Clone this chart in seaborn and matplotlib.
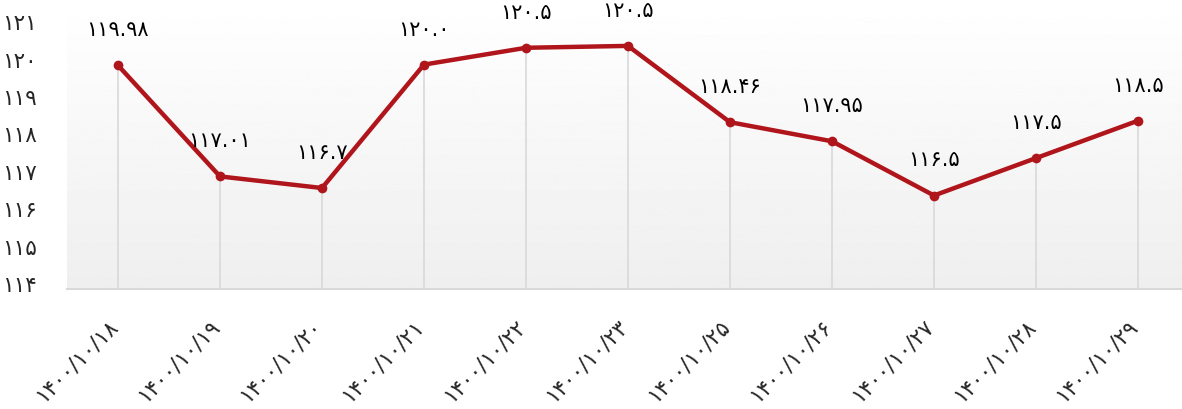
import numpy as np
import pandas as pd
import matplotlib
matplotlib.use("Agg")
import matplotlib.pyplot as plt
import matplotlib.transforms as mtransforms
import seaborn as sns

dates = ["۱۴۰۰/۱۰/۱۸", "۱۴۰۰/۱۰/۱۹", "۱۴۰۰/۱۰/۲۰", "۱۴۰۰/۱۰/۲۱", "۱۴۰۰/۱۰/۲۲",
         "۱۴۰۰/۱۰/۲۳", "۱۴۰۰/۱۰/۲۵", "۱۴۰۰/۱۰/۲۶", "۱۴۰۰/۱۰/۲۷", "۱۴۰۰/۱۰/۲۸",
         "۱۴۰۰/۱۰/۲۹"]
values = [119.98, 117.01, 116.7, 120.0, 120.45, 120.5, 118.46, 117.95, 116.5, 117.5, 118.5]
value_labels = ["۱۱۹.۹۸", "۱۱۷.۰۱", "۱۱۶.۷", "۱۲۰.۰", "۱۲۰.۵", "۱۲۰.۵",
                "۱۱۸.۴۶", "۱۱۷.۹۵", "۱۱۶.۵", "۱۱۷.۵", "۱۱۸.۵"]
y_ticks = [114, 115, 116, 117, 118, 119, 120, 121]
y_tick_labels = ["۱۱۴", "۱۱۵", "۱۱۶", "۱۱۷", "۱۱۸", "۱۱۹", "۱۲۰", "۱۲۱"]

sns.set_theme(style="white")
plt.rcParams['font.family'] = ['DejaVu Sans']

df = pd.DataFrame({"date": dates, "value": values})
x = np.arange(len(dates))

W, H = 1182, 410
fig = plt.figure(figsize=(W / 100, H / 100), dpi=100)
left_px, right_px, bottom_px, top_px = 67, 1182, 290, 0
ax = fig.add_axes([left_px / W, (H - bottom_px) / H, (right_px - left_px) / W, (bottom_px - top_px) / H])

# gradient background
grad = np.linspace(1.0, 0.935, 256).reshape(-1, 1)
ax.imshow(grad, cmap="gray", vmin=0, vmax=1, aspect="auto",
          extent=[0, 1, 0, 1], transform=ax.transAxes, zorder=0)

ax.vlines(x, 114, values, color="#d9d9d9", linewidth=1.2, zorder=1)

sns.lineplot(data=df, x="date", y="value", ax=ax, color="#b0151c", linewidth=3.2,
             marker="o", markersize=7, markeredgewidth=0, sort=False, zorder=3)

for xi, v, lab in zip(x, values, value_labels):
    ax.annotate(lab, (xi, v), xytext=(0, 36), textcoords="offset pixels",
                ha="center", va="center", fontsize=15, color="black", zorder=4)

ax.set_xlim(-0.5, -0.5 + (right_px - left_px) / 102.0)
ax.set_ylim(114, 114 + (bottom_px - top_px) / 37.4)
ax.set_yticks(y_ticks)
ax.set_yticklabels(y_tick_labels, fontsize=15.5)
ax.set_xticks(x)
ax.set_xticklabels(dates, rotation=45, ha="right", va="center",
                   rotation_mode="anchor", fontsize=15.5)
ax.tick_params(axis="y", length=0, pad=22)
ax.tick_params(axis="x", length=0, pad=24)
ydpi = fig.dpi_scale_trans
for lab in ax.get_yticklabels():
    lab.set_verticalalignment("center")
    lab.set_transform(lab.get_transform() + mtransforms.ScaledTranslation(0, 4 / 100, ydpi))
for lab in ax.get_xticklabels():
    lab.set_transform(lab.get_transform() + mtransforms.ScaledTranslation(-4 / 100, 0, ydpi))
ax.set_xlabel("")
ax.set_ylabel("")
for s in ["top", "right", "left"]:
    ax.spines[s].set_visible(False)
ax.spines["bottom"].set_color("#d9d9d9")
ax.spines["bottom"].set_linewidth(1.5)
ax.grid(False)

fig.savefig("out.png", dpi=100)
